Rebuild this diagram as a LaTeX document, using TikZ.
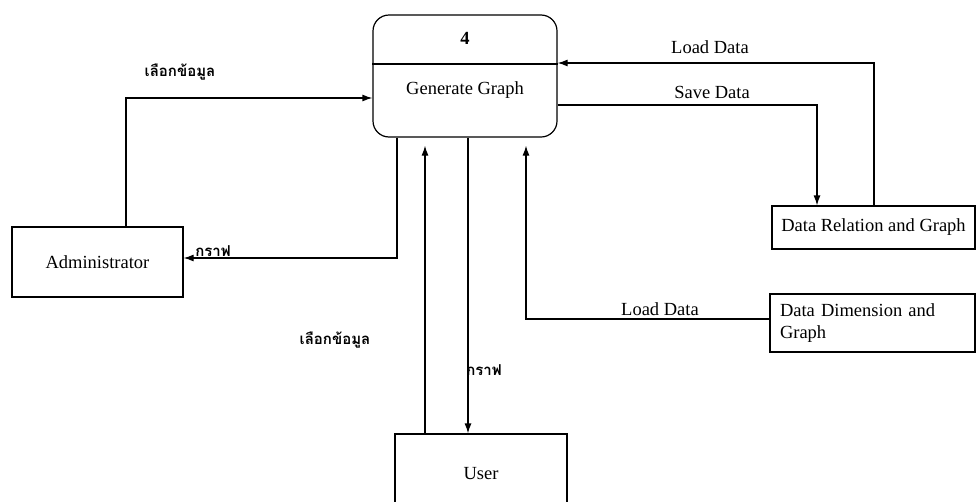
\documentclass[tikz,border=0pt]{standalone}
\usepackage{fontspec}
\setmainfont{Liberation Serif}
\newfontfamily\thaifont[Script=Thai]{Loma}
\usepackage{tikz}
\usetikzlibrary{shapes,arrows.meta,positioning}

\begin{document}
\begin{tikzpicture}[
    x=1pt, y=-1pt,
    font=\fontsize{18.5}{22}\selectfont,
    box/.style={rectangle, draw, line width=1.2pt, inner sep=0pt},
    procbox/.style={box, rounded corners=16pt, minimum width=184pt, minimum height=122pt},
    arrow/.style={-{Latex[length=10pt,width=7pt]}, line width=1.2pt},
    flowlabel/.style={inner sep=1pt},
    thlabel/.style={inner sep=1pt, font=\thaifont\bfseries\fontsize{15}{18}\selectfont}
]
    \useasboundingbox (0,0) rectangle (979,501);

    \node[procbox] (proc) at (465,76) {};
    \node (procid) at (465,38) {\textbf{4}};
    \draw[line width=1.2pt] (proc.west |- 0,64) -- (proc.east |- 0,64);
    \node (procname) at (465,90) {Generate Graph};

    \node[box, minimum width=171pt, minimum height=70pt] (admin) at (97.5,262) {Administrator};
    \node[box, minimum width=203pt, minimum height=43pt] (relation) at (873.5,227.5) {Data Relation and Graph};
    \node[box, minimum width=205pt, minimum height=58pt, align=left, text width=185pt] (dimension) at (872.5,323) {Data Dimension and\\Graph};
    \node[box, minimum width=172pt, minimum height=80pt] (user) at (481,474) {User};

    \draw[arrow] ([xshift=28.5pt]admin.north) |- (proc.west |- 0,98);
    \node[thlabel] (selectA) at (180,72) {เลือกข้อมูล};
    \draw[arrow] (proc.south -| 397,0) |- (admin.east |- 0,258);
    \node[thlabel, above] (graphA) at (213,258) {กราฟ};

    \draw[arrow] (relation.north -| 874,0) |- (proc.east |- 0,63);
    \node[flowlabel] (loadA) at (710,47) {Load Data};
    \draw[arrow] (proc.east |- 0,105) -| (relation.north -| 817,0);
    \node[flowlabel] (saveA) at (712,92) {Save Data};
    \draw[arrow, shorten >=8pt] (dimension.west |- 0,319) -| (proc.south -| 526,0);
    \node[flowlabel] (loadB) at (660,309) {Load Data};

    \draw[arrow, shorten >=8pt] (user.north -| 425,0) -- (proc.south -| 425,0);
    \node[thlabel] (selectB) at (335,340) {เลือกข้อมูล};
    \draw[arrow] (proc.south -| 468,0) -- (user.north -| 468,0);
    \node[thlabel] (graphB) at (484,370) {กราฟ};
\end{tikzpicture}
\end{document}
